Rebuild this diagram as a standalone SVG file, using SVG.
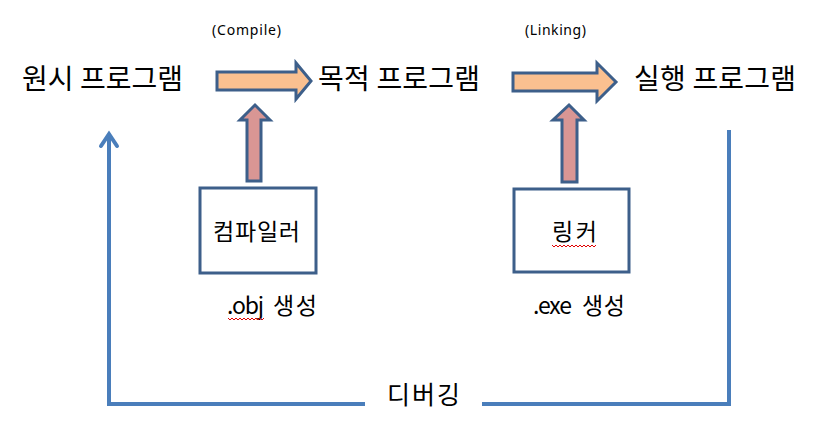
<svg xmlns="http://www.w3.org/2000/svg" width="826" height="436" viewBox="0 0 826 436">
<style>
text{font-family:"Noto Sans CJK KR","Noto Sans",sans-serif;fill:#000}
.big{font-size:28px}
.mid{font-size:23px}
.lab{font-size:23px}
.small{font-size:14px;font-family:"Noto Sans","Liberation Sans",sans-serif}
.box{fill:#fff;stroke:#3d5f8a;stroke-width:3}
.harrow{fill:#fac090;stroke:#3d5f8a;stroke-width:3;stroke-linejoin:miter}
.varrow{fill:#d99694;stroke:#3d5f8a;stroke-width:3;stroke-linejoin:miter}
.fb{fill:none;stroke:#4a7ebb;stroke-width:4}
.sq{fill:none;stroke:#e00000;stroke-width:1}
</style>
<rect width="826" height="436" fill="#fff"/>
<g id="src"><text class="big" x="22" y="89" textLength="161" lengthAdjust="spacing">원시 프로그램</text></g>
<g id="obj"><text class="big" x="318" y="89" textLength="162" lengthAdjust="spacing">목적 프로그램</text></g>
<g id="exe"><text class="big" x="634" y="89" textLength="162" lengthAdjust="spacing">실행 프로그램</text></g>
<g id="compiler">
<rect class="box" x="200" y="188" width="116" height="85"/>
<text class="mid" x="213" y="240" textLength="87" lengthAdjust="spacing">컴파일러</text>
</g>
<g id="linker">
<rect class="box" x="514" y="189" width="115" height="83"/>
<text class="mid" x="552" y="240" textLength="45" lengthAdjust="spacing">링커</text>
<path class="sq" d="M552 245 l2 2 l2 -2 l2 2 l2 -2 l2 2 l2 -2 l2 2 l2 -2 l2 2 l2 -2 l2 2 l2 -2 l2 2 l2 -2 l2 2 l2 -2 l2 2 l2 -2 l2 2 l2 -2 l2 2 l2 -2"/>
</g>
<g id="labels">
<text class="small" x="212" y="35" textLength="69" lengthAdjust="spacing">(Compile)</text>
<text class="small" x="525" y="35" textLength="61" lengthAdjust="spacing">(Linking)</text>
<text class="lab" y="314"><tspan x="227" textLength="37" lengthAdjust="spacing">.obj</tspan> <tspan x="273" textLength="44" lengthAdjust="spacing">생성</tspan></text>
<path class="sq" d="M228 318 l2 2 l2 -2 l2 2 l2 -2 l2 2 l2 -2 l2 2 l2 -2 l2 2 l2 -2 l2 2 l2 -2 l2 2 l2 -2 l2 2 l2 -2 l2 2 l2 -2"/>
<text class="lab" y="314"><tspan x="533" textLength="39" lengthAdjust="spacing">.exe</tspan> <tspan x="582" textLength="43" lengthAdjust="spacing">생성</tspan></text>
<text class="lab" x="387" y="404" style="font-size:25px" textLength="73" lengthAdjust="spacing">디버깅</text>
</g>
<g id="connectors">
<polygon class="harrow" points="217,72 296,72 296,63 311,81 296,99 296,90 217,90"/>
<polygon class="harrow" points="513,73 597,73 597,63 616,82 597,101 597,91 513,91"/>
<polygon class="varrow" points="247,181 247,120 240,120 255,105 270,120 261,120 261,181"/>
<polygon class="varrow" points="562,182 562,120 553,120 569,105 584,120 577,120 577,182"/>
<polyline class="fb" points="729,130 729,404 482,404"/>
<polyline class="fb" points="365,404 109,404 109,134"/>
<polyline class="fb" points="101,146 109,134 117,146" stroke-linecap="round"/>
</g>
</svg>
